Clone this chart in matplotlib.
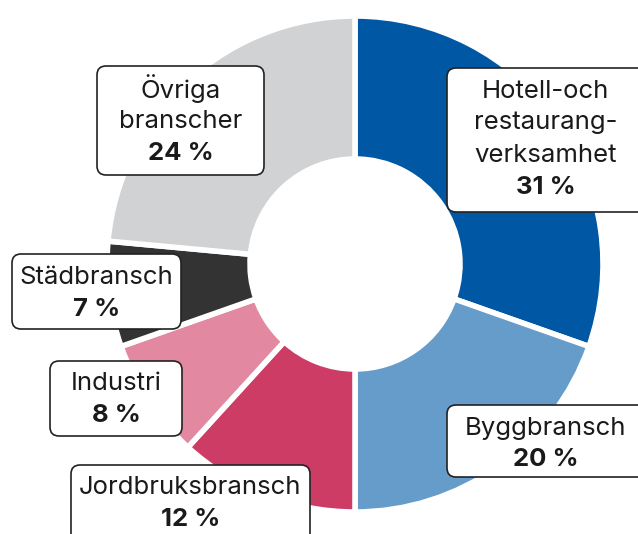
import matplotlib
matplotlib.use("Agg")
import matplotlib.pyplot as plt
from matplotlib.patches import FancyBboxPatch

# data
branscher = ["Hotell-och\nrestaurang-\nverksamhet", "Byggbransch", "Jordbruksbransch",
             "Industri", "Städbransch", "Övriga\nbranscher"]
andelar = [31, 20, 12, 8, 7, 24]
farger = ["#0057a3", "#669cc9", "#cd3c64", "#e289a1", "#333333", "#d1d2d4"]

# label boxes in pixel coords (left, top, right, bottom), top-down
boxar = [(447, 68, 650, 212), (447, 405, 650, 477), (71, 465, 310, 545),
         (50, 361, 182, 436), (12, 254, 181, 329), (97, 66, 264, 175)]

W, H = 638, 534
plt.rcParams['font.family'] = ['Inter', 'DejaVu Sans']

fig = plt.figure(figsize=(W / 100, H / 100), dpi=100)
ax = fig.add_axes([0, 0, 1, 1])
ax.set_xlim(0, W)
ax.set_ylim(0, H)
ax.set_aspect('equal')
ax.axis('off')

cx, cy, R, r = 355, H - 264, 248, 105
ax.pie(andelar, colors=farger, startangle=90, counterclock=False,
       center=(cx, cy), radius=R, frame=True,
       wedgeprops=dict(width=R - r, edgecolor='white', linewidth=4))
ax.set_xlim(0, W)
ax.set_ylim(0, H)
ax.axis('off')

for namn, val, (x0, y0, x1, y1) in zip(branscher, andelar, boxar):
    box = FancyBboxPatch((x0, H - y1), x1 - x0, y1 - y0,
                         boxstyle="round,pad=0,rounding_size=9",
                         facecolor='white', edgecolor='#222222', linewidth=1.2,
                         zorder=5, clip_on=False)
    ax.add_patch(box)
    rader = namn.split("\n")
    n = len(rader) + 1
    mitt_x = (x0 + min(x1, W + 10)) / 2 if x1 < W else (x0 + 640) / 2 + 2
    top_y = y0 + 23
    for i, rad in enumerate(rader):
        ax.text(mitt_x, H - (top_y + 32 * i), rad, ha='center', va='center',
                fontsize=18.5, color='#1a1a1a', zorder=6)
    ax.text(mitt_x, H - (top_y + 32 * (n - 1)), f"{val} %", ha='center', va='center',
            fontsize=18.5, fontweight='bold', color='#1a1a1a', zorder=6)

fig.savefig("out.png", dpi=100)
